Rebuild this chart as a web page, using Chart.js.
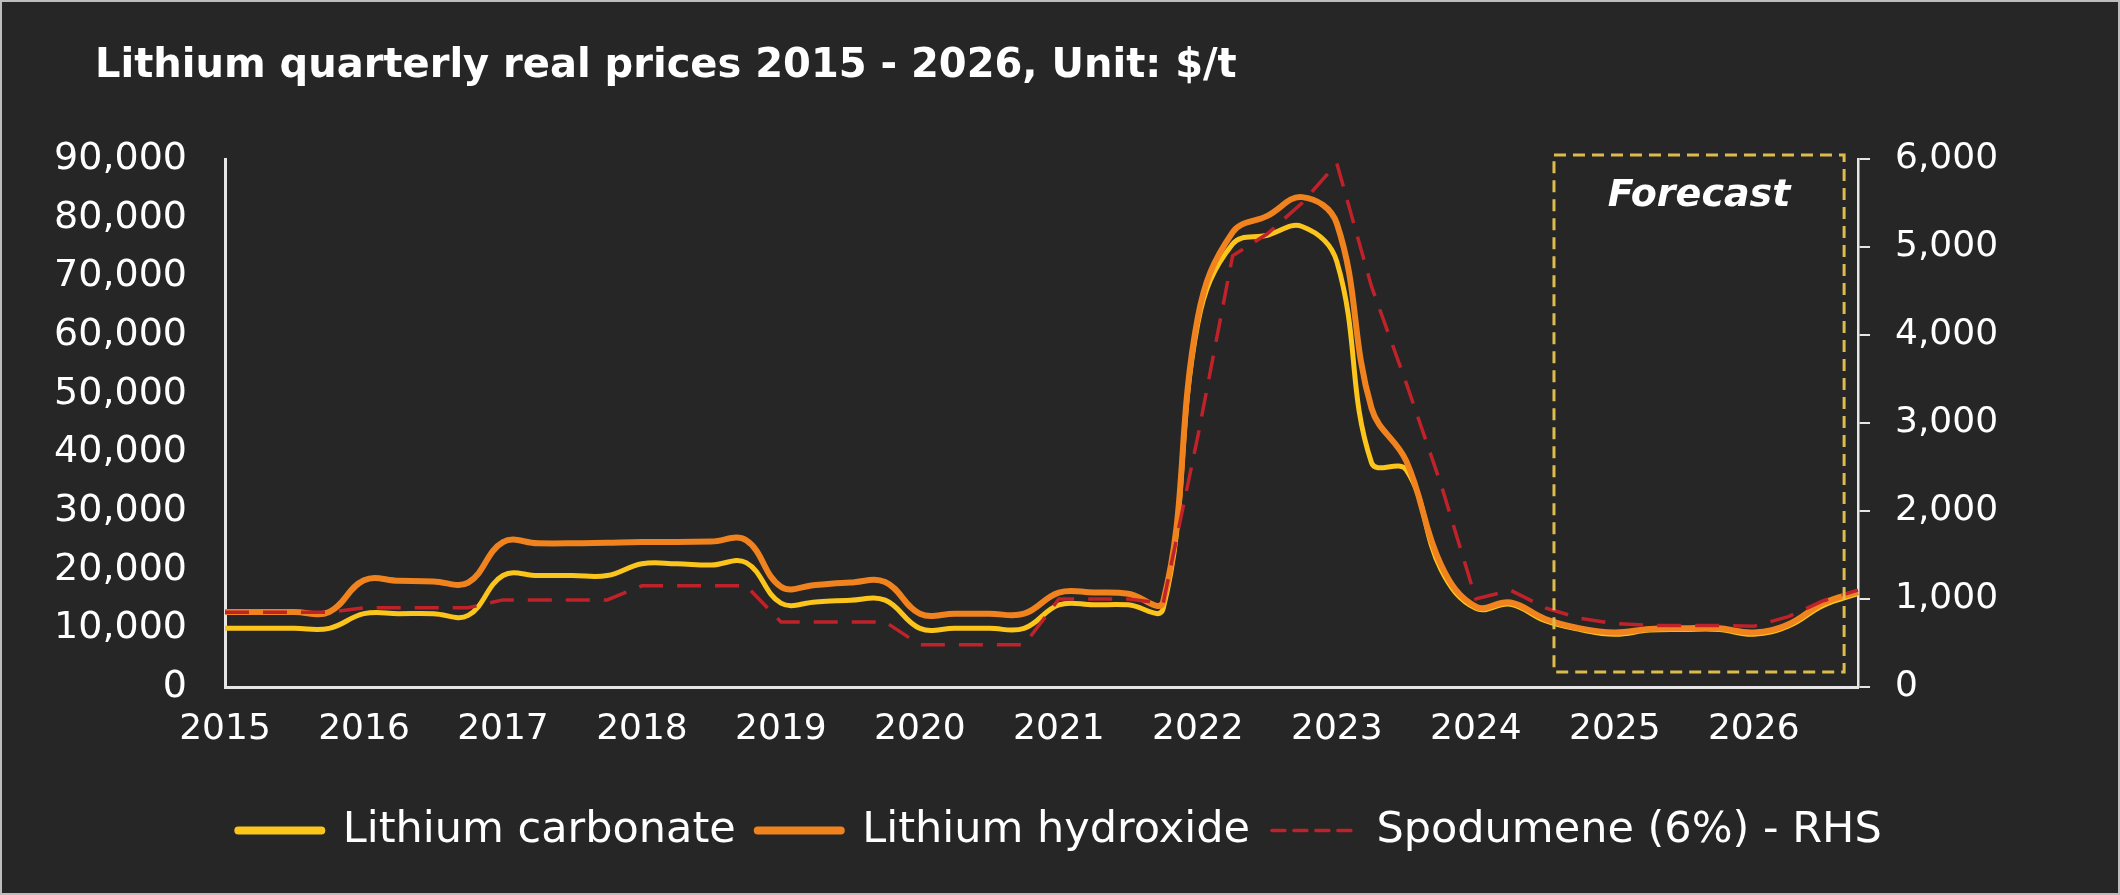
<!DOCTYPE html>
<html>
<head>
<meta charset="utf-8">
<title>Lithium quarterly real prices</title>
<script src="https://cdn.jsdelivr.net/npm/chart.js@4.4.1/dist/chart.umd.min.js"></script>
<style>
  html, body { margin: 0; padding: 0; background: #262626; }
  #wrap { width: 2120px; height: 895px; }
</style>
</head>
<body>
<div id="wrap"><canvas id="lithiumChart" width="2120" height="895"></canvas></div>
<script>
// quarterly categories, one tick label per year (Q1)
const years = [2015, 2016, 2017, 2018, 2019, 2020, 2021, 2022, 2023, 2024, 2025, 2026];
const quarters = ['Q1', 'Q2', 'Q3', 'Q4'];

// $/t, left axis
const carbonate = [
  10000, 10000, 10000, 10000,   // 2015
  12500, 12500, 12500, 12200,   // 2016
  19000, 19000, 19000, 19000,   // 2017
  21000, 21000, 20800, 21200,   // 2018
  14300, 14500, 14800, 14800,   // 2019
  10000, 10000, 10000, 10000,   // 2020
  14000, 14000, 14000, 13300,   // 2021
  62000, 75500, 77000, 78500,   // 2022
  72500, 38200, 37000, 20000,   // 2023
  13400, 14100, 11300, 9800,    // 2024
  9000, 9700, 9800, 9800,       // 2025
  9000, 10400, 13900, 15900     // 2026
];
const hydroxide = [
  12800, 12800, 12800, 12800,
  18200, 18100, 18000, 17800,
  24700, 24500, 24500, 24600,
  24700, 24700, 24800, 25000,
  17100, 17400, 17800, 17900,
  12500, 12500, 12500, 12500,
  16100, 16100, 15900, 14500,
  63000, 77500, 80300, 83500,
  79000, 47500, 38500, 20800,
  13700, 14400, 11600, 10000,
  9300, 9900, 10000, 10000,
  9300, 10700, 14300, 16200
];
// $/t, right axis
const spodumene = [
  850, 850, 850, 850,
  900, 900, 900, 900,
  990, 990, 990, 990,
  1150, 1150, 1150, 1150,
  740, 740, 740, 740,
  480, 480, 480, 480,
  1000, 1000, 1000, 950,
  2850, 4900, 5150, 5500,
  5950, 4550, 3450, 2300,
  1000, 1100, 900, 780,
  720, 700, 700, 700,
  690, 800, 980, 1100
];

// forecast window, in quarter index units
const forecastFrom = 38.25;
const forecastTo = 46.6;

const titleText = 'Lithium quarterly real prices 2015 - 2026, Unit: $/t';

const labels = [];
years.forEach(y => quarters.forEach(q => labels.push(y + ' ' + q)));

const FONT = 'DejaVu Sans';
const AXIS = '#e6e6e6';

const bgPlugin = {
  id: 'bg',
  beforeDraw(chart) {
    const ctx = chart.ctx;
    ctx.save();
    ctx.fillStyle = '#262626';
    ctx.fillRect(0, 0, chart.width, chart.height);
    ctx.strokeStyle = '#bdbdbd';
    ctx.lineWidth = 2;
    ctx.strokeRect(1, 1, chart.width - 2, chart.height - 2);
    // title
    ctx.fillStyle = '#ffffff';
    ctx.font = 'bold 40px "' + FONT + '"';
    ctx.textAlign = 'left';
    ctx.textBaseline = 'middle';
    ctx.fillText(titleText, 95, 67);
    ctx.restore();
  }
};

const forecastPlugin = {
  id: 'forecastBox',
  afterDatasetsDraw(chart) {
    const {ctx, chartArea, scales} = chart;
    const x0 = scales.x.getPixelForValue(forecastFrom);
    const x1 = scales.x.getPixelForValue(forecastTo);
    const top = chartArea.top - 4;
    const bottom = chartArea.bottom - 15;
    ctx.save();
    ctx.strokeStyle = '#dcbc4c';
    ctx.lineWidth = 3;
    ctx.setLineDash([12, 7]);
    ctx.strokeRect(x0, top, x1 - x0, bottom - top);
    ctx.setLineDash([]);
    ctx.fillStyle = '#ffffff';
    ctx.font = 'italic bold 38px "' + FONT + '"';
    ctx.textAlign = 'center';
    ctx.textBaseline = 'middle';
    ctx.fillText('Forecast', (x0 + x1) / 2, top + 41);
    ctx.restore();
  }
};

new Chart(document.getElementById('lithiumChart'), {
  type: 'line',
  data: {
    labels: labels,
    datasets: [
      {
        label: 'Lithium carbonate',
        data: carbonate,
        borderColor: '#fbc51c',
        backgroundColor: '#fbc51c',
        borderWidth: 5,
        tension: 0.4,
        pointRadius: 0,
        yAxisID: 'y',
        order: 3
      },
      {
        label: 'Lithium hydroxide',
        data: hydroxide,
        borderColor: '#f0831e',
        backgroundColor: '#f0831e',
        borderWidth: 6,
        tension: 0.4,
        pointRadius: 0,
        yAxisID: 'y',
        order: 2
      },
      {
        label: 'Spodumene (6%) - RHS',
        data: spodumene,
        borderColor: '#c0222a',
        backgroundColor: '#c0222a',
        borderWidth: 3.5,
        borderDash: [24, 14],
        tension: 0,
        pointRadius: 0,
        yAxisID: 'y1',
        order: 1
      }
    ]
  },
  options: {
    responsive: false,
    animation: false,
    devicePixelRatio: 1,
    locale: 'en-US',
    layout: { padding: { left: 0, right: 0, top: 159, bottom: 33 } },
    plugins: {
      title: { display: false },
      legend: {
        position: 'bottom',
        labels: {
          color: '#ffffff',
          font: { family: FONT, size: 43 },
          usePointStyle: true,
          pointStyle: 'line',
          pointStyleWidth: 83,
          boxHeight: 12,
          padding: 22,
          sort: (a, b) => a.datasetIndex - b.datasetIndex,
          generateLabels(chart) {
            const items = Chart.defaults.plugins.legend.labels.generateLabels(chart);
            items.forEach(it => {
              it.pointStyle = 'line';
              it.lineCap = 'round';
              it.lineWidth = it.datasetIndex === 2 ? 3.5 : 8;
              if (it.datasetIndex === 2) it.lineDash = [13, 9];
            });
            return items;
          }
        }
      },
      tooltip: { enabled: false }
    },
    scales: {
      x: {
        afterFit: s => { s.height = 100; },
        grid: { display: true, drawOnChartArea: false, drawTicks: false },
        border: { display: true, color: AXIS, width: 3 },
        ticks: {
          color: '#ffffff',
          font: { family: FONT, size: 36 },
          padding: 21,
          autoSkip: false,
          maxRotation: 0,
          callback: (v, i) => (i % 4 === 0 ? labels[i].slice(0, 4) : '')
        }
      },
      y: {
        position: 'left',
        min: 0,
        max: 90000,
        afterFit: s => { s.width = 225; },
        grid: { display: true, drawOnChartArea: false, drawTicks: false },
        border: { display: true, color: AXIS, width: 3 },
        ticks: {
          stepSize: 10000,
          color: '#ffffff',
          font: { family: FONT, size: 38 },
          padding: 38
        }
      },
      y1: {
        position: 'right',
        min: 0,
        max: 6000,
        afterFit: s => { s.width = 262; },
        grid: { display: true, drawOnChartArea: false, drawTicks: true, tickLength: 12, color: AXIS, lineWidth: 2 },
        border: { display: true, color: AXIS, width: 2.5 },
        ticks: {
          stepSize: 1000,
          color: '#ffffff',
          font: { family: FONT, size: 36 },
          padding: 25
        }
      }
    }
  },
  plugins: [bgPlugin, forecastPlugin]
});
</script>
</body>
</html>
